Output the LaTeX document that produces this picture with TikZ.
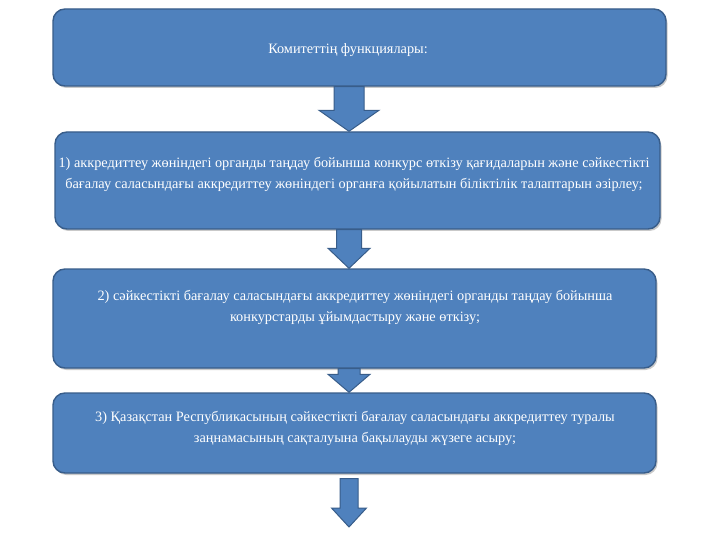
\documentclass[tikz,border=0pt]{standalone}
\usepackage{fontspec}
\setmainfont{Liberation Serif}
\usetikzlibrary{calc,shadows}
\definecolor{boxfill}{HTML}{4F81BD}
\definecolor{boxline}{HTML}{385D8A}
\tikzset{
  box/.style={draw=boxline, line width=1.4pt, fill=boxfill, rounded corners=12pt,
    drop shadow={shadow xshift=1.5pt, shadow yshift=-2pt, opacity=0.35, fill=black!60}},
  boxtext/.style={text=white, align=center, font=\fontsize{14.3}{21}\selectfont, inner sep=0pt},
  blockarrow/.style={draw=boxline, line width=1pt, fill=boxfill, line join=miter}
}
\newcommand\blockarr[5]{% start, tip, shaft half, head half, head length
  \draw[blockarrow] ($(#1)+(-#3,0)$) -- ($(#1)+(#3,0)$) -- ($(#2)+(#3,-#5)$) --
    ($(#2)+(#4,-#5)$) -- (#2) -- ($(#2)+(-#4,-#5)$) -- ($(#2)+(-#3,-#5)$) -- cycle;}
\begin{document}
\begin{tikzpicture}[x=1pt,y=-1pt]
\useasboundingbox (0,0) rectangle (720,540);
\fill[white] (0,0) rectangle (720,540);
\coordinate (axis) at (349,0);
\node[box, minimum width=613pt, minimum height=77pt] (b0) at (359.5,47.5) {};
\node[box, minimum width=605pt, minimum height=97pt] (b1) at (357.5,180.5) {};
\node[box, minimum width=603pt, minimum height=99pt] (b2) at (354.5,318.5) {};
\node[box, minimum width=603pt, minimum height=80pt] (b3) at (354.5,433) {};
\node[boxtext] (t0) at (348,50) {Комитеттің функциялары:};
\node[boxtext] (t1) at (354,174) {1) аккредиттеу жөніндегі органды таңдау бойынша конкурс өткізу қағидаларын және сәйкестікті\\бағалау саласындағы аккредиттеу жөніндегі органға қойылатын біліктілік талаптарын әзірлеу;};
\node[boxtext] (t2) at (355,307) {2) сәйкестікті бағалау саласындағы аккредиттеу жөніндегі органды таңдау бойынша\\конкурстарды ұйымдастыру және өткізу;};
\node[boxtext] (t3) at (355,428) {3) Қазақстан Республикасының сәйкестікті бағалау саласындағы аккредиттеу туралы\\заңнамасының сақталуына бақылауды жүзеге асыру;};
\coordinate (s1) at (b0.south -| axis);
\coordinate (e1) at (b1.north -| axis);
\coordinate (s2) at (b1.south -| axis);
\coordinate (e2) at (b2.north -| axis);
\coordinate (s3) at (b2.south -| axis);
\coordinate (e3) at (b3.north -| axis);
\coordinate (s4) at ($(b3.south -| axis)+(0,5)$);
\coordinate (e4) at (349,527);
\blockarr{s1}{e1}{15}{30}{21}
\blockarr{s2}{e2}{12.5}{21}{20}
\blockarr{s3}{e3}{11}{21}{18}
\blockarr{s4}{e4}{9}{17.5}{19}
\end{tikzpicture}
\end{document}
